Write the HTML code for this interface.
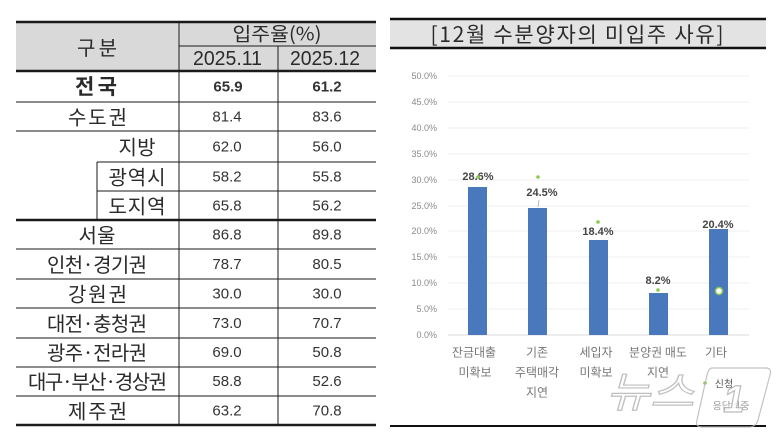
<!DOCTYPE html>
<html><head><meta charset="utf-8">
<style>
html,body{margin:0;padding:0;background:#fff;}
svg{display:block;}
text{font-family:"Liberation Sans","Noto Sans CJK KR",sans-serif;}
.k{font-family:"Noto Sans CJK KR","Liberation Sans",sans-serif;}
</style></head>
<body>
<svg width="779" height="439" viewBox="0 0 779 439" xmlns="http://www.w3.org/2000/svg">
<rect width="779" height="439" fill="#fff"/>
<!-- TABLE -->
<rect x="16" y="22" width="360" height="49" fill="#d9d9d9"/>
<g stroke="#1a1a1a" fill="none">
  <line x1="16" y1="22" x2="376" y2="22" stroke-width="2.5"/>
  <line x1="16" y1="71" x2="376" y2="71" stroke-width="2.5"/>
  <line x1="179" y1="46" x2="376" y2="46" stroke-width="1"/>
  <line x1="179" y1="22" x2="179" y2="425" stroke-width="1"/>
  <line x1="278" y1="46" x2="278" y2="425" stroke-width="1"/>
  <line x1="16" y1="102" x2="376" y2="102" stroke-width="1"/>
  <line x1="16" y1="131" x2="376" y2="131" stroke-width="1"/>
  <line x1="97" y1="162" x2="376" y2="162" stroke-width="1"/>
  <line x1="97" y1="191" x2="376" y2="191" stroke-width="1"/>
  <line x1="97" y1="162" x2="97" y2="220" stroke-width="1"/>
  <line x1="16" y1="220" x2="376" y2="220" stroke-width="2.5"/>
  <line x1="16" y1="249" x2="376" y2="249" stroke-width="1"/>
  <line x1="16" y1="279" x2="376" y2="279" stroke-width="1"/>
  <line x1="16" y1="308" x2="376" y2="308" stroke-width="1"/>
  <line x1="16" y1="338" x2="376" y2="338" stroke-width="1"/>
  <line x1="16" y1="367" x2="376" y2="367" stroke-width="1"/>
  <line x1="16" y1="396" x2="376" y2="396" stroke-width="1"/>
  <line x1="16" y1="425" x2="376" y2="425" stroke-width="2.5"/>
</g>
<g fill="#2a2a2a" text-anchor="middle" dominant-baseline="central">
  <text class="k" x="97" y="46.5" font-size="20" textLength="40" lengthAdjust="spacing">구분</text>
  <text class="k" x="277" y="33" font-size="19" textLength="89" lengthAdjust="spacingAndGlyphs">입주율(%)</text>
  <text x="227.5" y="59" font-size="20" textLength="69" lengthAdjust="spacingAndGlyphs">2025.11</text>
  <text x="325" y="59" font-size="20" textLength="70" lengthAdjust="spacingAndGlyphs">2025.12</text>

  <text class="k" x="96" y="86" font-size="21" font-weight="bold" textLength="42" lengthAdjust="spacing">전국</text>
  <text class="k" x="97.5" y="116" font-size="20" textLength="59" lengthAdjust="spacing">수도권</text>
  <text class="k" x="137" y="146" font-size="20" textLength="37" lengthAdjust="spacing">지방</text>
  <text class="k" x="137" y="176" font-size="20" textLength="57" lengthAdjust="spacing">광역시</text>
  <text class="k" x="137" y="205" font-size="20" textLength="57" lengthAdjust="spacing">도지역</text>
  <text class="k" x="97" y="234" font-size="20" textLength="37" lengthAdjust="spacing">서울</text>
  <text class="k" x="97" y="263.5" font-size="20" textLength="100" lengthAdjust="spacing">인천·경기권</text>
  <text class="k" x="97.5" y="293" font-size="20" textLength="59" lengthAdjust="spacing">강원권</text>
  <text class="k" x="97" y="322.5" font-size="20" textLength="100" lengthAdjust="spacing">대전·충청권</text>
  <text class="k" x="97" y="351.5" font-size="20" textLength="100" lengthAdjust="spacing">광주·전라권</text>
  <text class="k" x="97.5" y="380.5" font-size="20" textLength="139" lengthAdjust="spacing">대구·부산·경상권</text>
  <text class="k" x="97.5" y="410" font-size="20" textLength="59" lengthAdjust="spacing">제주권</text>
</g>
<g fill="#333" text-anchor="middle" dominant-baseline="central" font-size="15">
  <text x="228" y="87" font-weight="bold">65.9</text><text x="327" y="87" font-weight="bold">61.2</text>
  <text x="227" y="117">81.4</text><text x="327" y="117">83.6</text>
  <text x="227" y="147">62.0</text><text x="327" y="147">56.0</text>
  <text x="227" y="177">58.2</text><text x="327" y="177">55.8</text>
  <text x="227" y="206">65.8</text><text x="327" y="206">56.2</text>
  <text x="227" y="235">86.8</text><text x="327" y="235">89.8</text>
  <text x="227" y="264.5">78.7</text><text x="327" y="264.5">80.5</text>
  <text x="227" y="294">30.0</text><text x="327" y="294">30.0</text>
  <text x="227" y="323.5">73.0</text><text x="327" y="323.5">70.7</text>
  <text x="227" y="352.5">69.0</text><text x="327" y="352.5">50.8</text>
  <text x="227" y="381.5">58.8</text><text x="327" y="381.5">52.6</text>
  <text x="227" y="411">63.2</text><text x="327" y="411">70.8</text>
</g>

<!-- CHART -->
<rect x="390" y="19" width="376" height="29" fill="#e3e3e3"/>
<line x1="390" y1="19" x2="766" y2="19" stroke="#111" stroke-width="2.5"/>
<line x1="390" y1="48" x2="766" y2="48" stroke="#111" stroke-width="2.5"/>
<text class="k" x="577" y="34" font-size="21" fill="#2a2a2a" text-anchor="middle" dominant-baseline="central" textLength="293" lengthAdjust="spacing">[12월 수분양자의 미입주 사유]</text>
<line x1="390" y1="426" x2="766" y2="426" stroke="#111" stroke-width="2"/>

<g stroke="#efefef" stroke-width="1">
  <line x1="448" y1="76" x2="749" y2="76"/>
  <line x1="448" y1="102" x2="749" y2="102"/>
  <line x1="448" y1="128" x2="749" y2="128"/>
  <line x1="448" y1="154" x2="749" y2="154"/>
  <line x1="448" y1="180" x2="749" y2="180"/>
  <line x1="448" y1="206" x2="749" y2="206"/>
  <line x1="448" y1="231" x2="749" y2="231"/>
  <line x1="448" y1="257" x2="749" y2="257"/>
  <line x1="448" y1="283" x2="749" y2="283"/>
  <line x1="448" y1="309" x2="749" y2="309"/>
</g>
<line x1="448" y1="335" x2="749" y2="335" stroke="#d9d9d9" stroke-width="1"/>
<g fill="#8a8a8a" font-size="9" text-anchor="end" dominant-baseline="central">
  <text x="437" y="76">50.0%</text>
  <text x="437" y="102">45.0%</text>
  <text x="437" y="128">40.0%</text>
  <text x="437" y="154">35.0%</text>
  <text x="437" y="180">30.0%</text>
  <text x="437" y="206">25.0%</text>
  <text x="437" y="231">20.0%</text>
  <text x="437" y="257">15.0%</text>
  <text x="437" y="283">10.0%</text>
  <text x="437" y="309">5.0%</text>
  <text x="437" y="335">0.0%</text>
</g>
<g fill="#4a78bc">
  <rect x="468" y="187" width="19" height="148"/>
  <rect x="528" y="208" width="19" height="127"/>
  <rect x="589" y="240" width="19" height="95"/>
  <rect x="649" y="293" width="19" height="42"/>
  <rect x="709" y="229" width="19" height="106"/>
</g>
<line x1="539" y1="200" x2="538" y2="207" stroke="#aaa" stroke-width="0.8"/>
<g fill="#444" font-size="11" font-weight="bold" text-anchor="middle" dominant-baseline="central">
  <text x="478" y="177">28.6%</text>
  <text x="542" y="193">24.5%</text>
  <text x="598" y="232">18.4%</text>
  <text x="658" y="281">8.2%</text>
  <text x="718" y="225">20.4%</text>
</g>
<g fill="#8cc84b">
  <circle cx="478" cy="177" r="1.8"/>
  <circle cx="538" cy="177" r="1.8"/>
  <circle cx="598" cy="222" r="1.8"/>
  <circle cx="658" cy="290" r="1.8"/>
  <circle cx="705" cy="383" r="1.8"/>
</g>
<circle cx="719" cy="291" r="3.5" fill="#fff" stroke="#8cc84b" stroke-width="1.5"/>
<g class="k" fill="#777" font-size="12" text-anchor="middle" dominant-baseline="central">
  <text class="k" x="474" y="352">잔금대출</text>
  <text class="k" x="475" y="372">미확보</text>
  <text class="k" x="537" y="352">기존</text>
  <text class="k" x="537" y="372">주택매각</text>
  <text class="k" x="537" y="392">지연</text>
  <text class="k" x="596" y="352">세입자</text>
  <text class="k" x="596" y="372">미확보</text>
  <text class="k" x="658" y="352">분양권 매도</text>
  <text class="k" x="658" y="372">지연</text>
  <text class="k" x="716" y="352">기타</text>
  <text class="k" x="724" y="383" font-size="10" fill="#555">신청</text>
  <text class="k" x="731" y="405" font-size="10" fill="#999">응답비중</text>
</g>
<!-- watermark -->
<g opacity="0.85">
  <text class="k" x="606" y="407" font-size="42" font-style="italic" fill="#fff" stroke="#b5b5b5" stroke-width="1.2" textLength="88" lengthAdjust="spacingAndGlyphs">뉴스</text>
  <path d="M712 368 L766 368 Q772 368 770 375 L758 420 Q756 427 749 427 L702 427 Q695 427 697 420 L707 375 Q709 368 712 368 Z" fill="none" stroke="#b8b8b8" stroke-width="1.2"/>
  <text x="734" y="412" font-size="38" font-style="italic" font-weight="bold" fill="#fff" stroke="#b0b0b0" stroke-width="1.2" text-anchor="middle">1</text>
</g>
</svg>
</body></html>
